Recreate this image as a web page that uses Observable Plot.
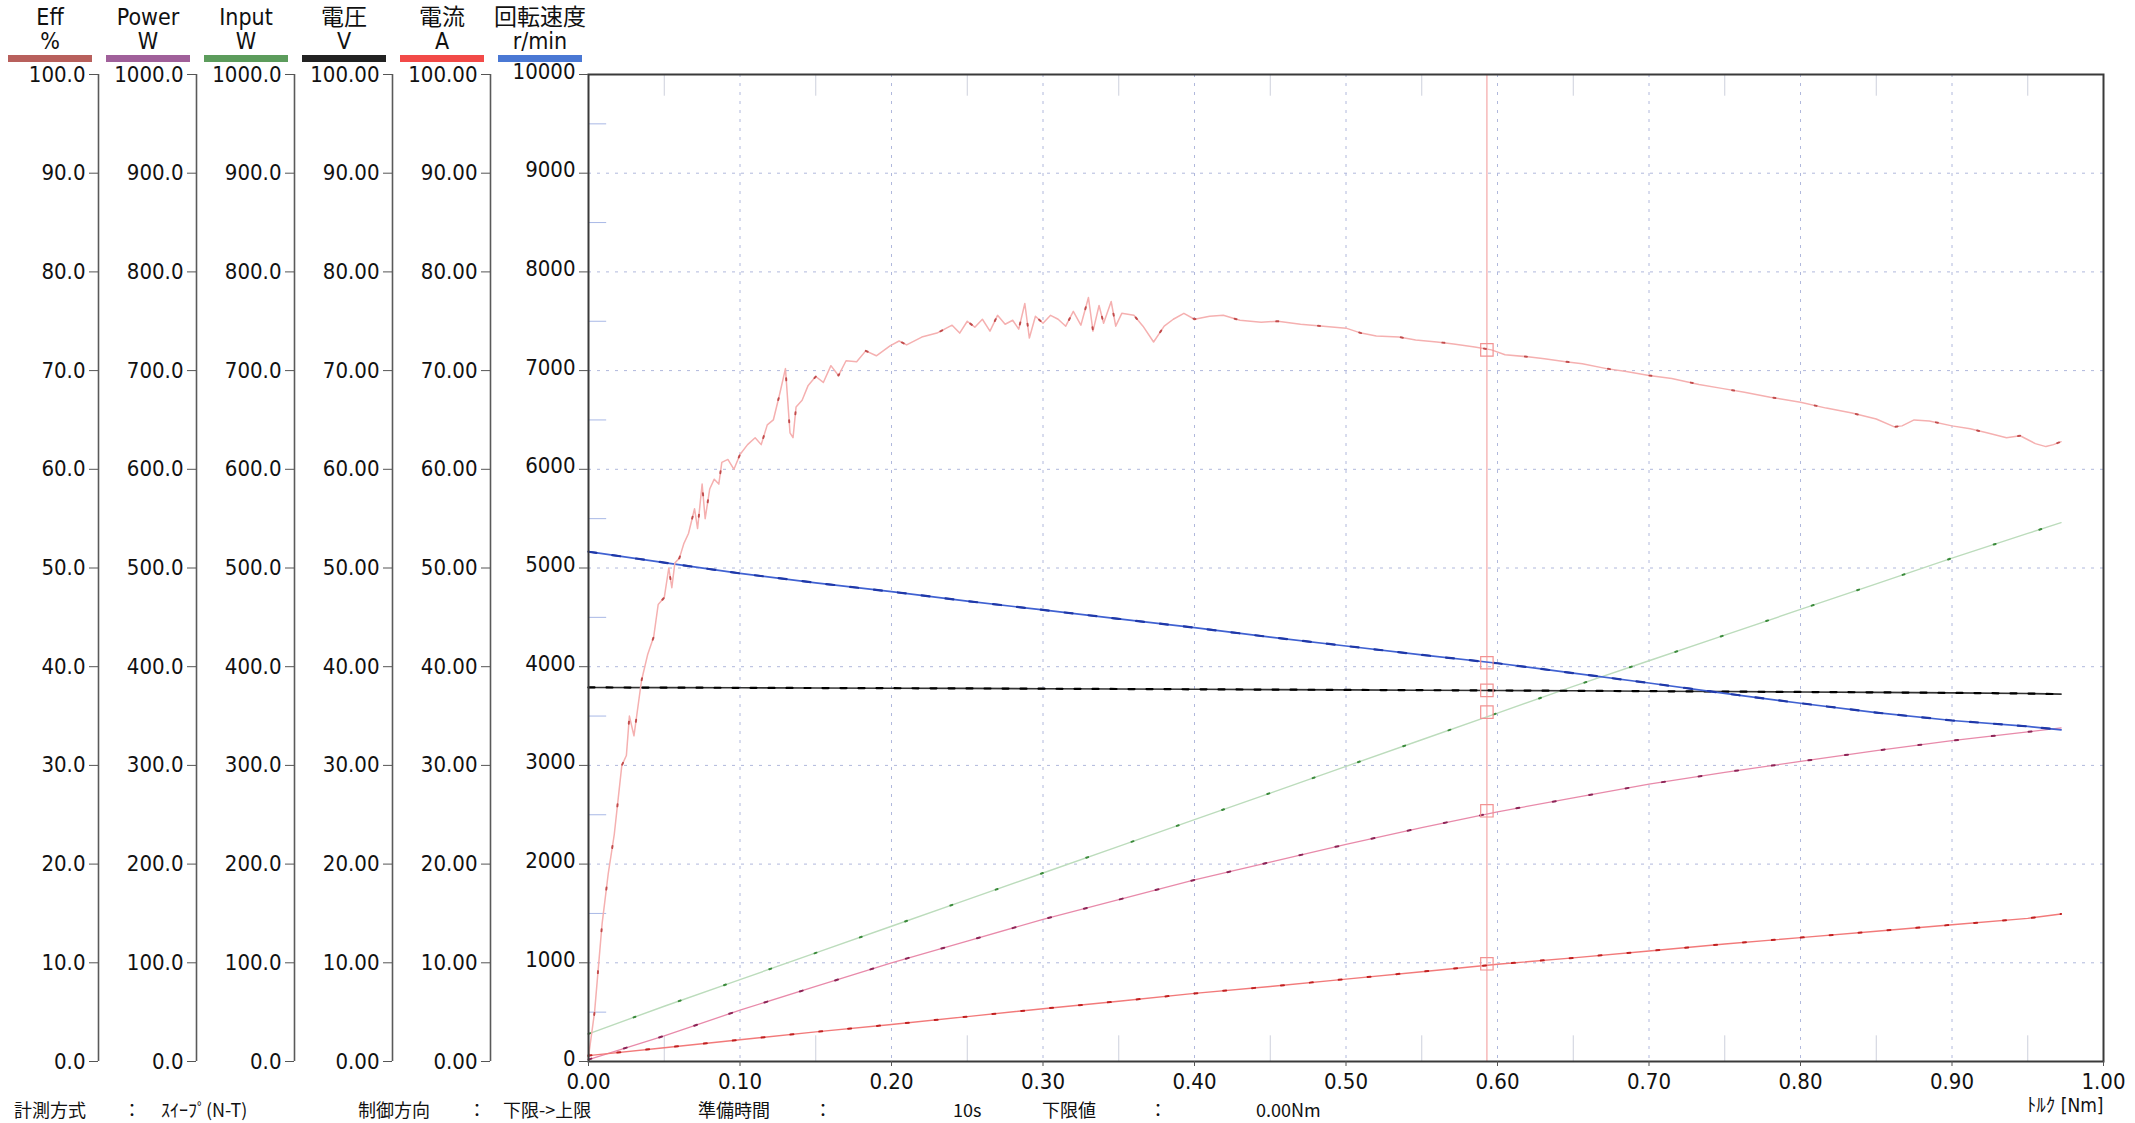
<!DOCTYPE html>
<html><head><meta charset="utf-8">
<script src="https://cdn.jsdelivr.net/npm/d3@7"></script>
<script src="https://cdn.jsdelivr.net/npm/@observablehq/plot@0.6"></script>
<style>
html,body{margin:0;padding:0;background:#fff;overflow:hidden;}
#wrap{position:relative;width:2135px;height:1123px;overflow:hidden;background:#fff;}
#chart{position:absolute;left:0;top:0;}
.hdr{position:absolute;width:120px;text-align:center;font-family:"Liberation Sans Narrow","DejaVu Sans Condensed","Noto Sans CJK JP",sans-serif;font-size:23px;line-height:24px;color:#111;white-space:nowrap;}
.bar{position:absolute;height:7px;}
.info{position:absolute;top:1099px;font-family:"Liberation Sans Narrow","Noto Sans CJK JP",sans-serif;font-size:18px;line-height:20px;color:#111;white-space:nowrap;}
</style>
</head><body>
<div id="wrap"><div id="chart"></div></div>
<script>
// ---- data ----
const torque   = [0,0.05,0.10,0.15,0.20,0.25,0.30,0.35,0.40,0.45,0.50,0.55,0.60,0.65,0.70,0.75,0.80,0.85,0.90,0.95,0.972];
const speedRpm = [5165,5055,4945,4850,4760,4665,4575,4485,4395,4300,4210,4120,4035,3935,3835,3730,3630,3535,3455,3395,3360];
const voltageV = [37.9,37.88,37.86,37.84,37.82,37.8,37.77,37.74,37.71,37.68,37.65,37.62,37.59,37.56,37.52,37.48,37.44,37.4,37.35,37.28,37.22];
const inputW   = [28,56,83,110,137,164,191,218,245,272,299,326,353,380,406,432,458,484,510,535,546];
const powerW   = [2,26,52,76,100,122,144,164,184,202,220,237,253,267,281,293,304,315,325,334,338];
const currentA = [0.6,1.4,2.2,3.0,3.75,4.55,5.35,6.1,6.9,7.6,8.35,9.1,9.85,10.5,11.2,11.9,12.55,13.2,13.85,14.5,14.95];

const effTorque = [0,0.004,0.009,0.013,0.017,0.022,0.025,0.027,0.03,0.035,0.039,0.043,0.046,0.05,0.053,0.055,0.057,0.06,0.063,0.066,0.07,0.072,0.075,0.077,0.08,0.083,0.086,0.088,0.092,0.096,0.1,0.105,0.11,0.114,0.118,0.122,0.126,0.13,0.133,0.135,0.137,0.141,0.145,0.15,0.155,0.16,0.165,0.17,0.177,0.183,0.19,0.199,0.205,0.21,0.22,0.23,0.24,0.245,0.25,0.255,0.26,0.265,0.27,0.275,0.28,0.284,0.288,0.291,0.295,0.3,0.305,0.31,0.315,0.32,0.325,0.33,0.333,0.337,0.34,0.345,0.348,0.352,0.36,0.366,0.373,0.38,0.386,0.393,0.4,0.41,0.419,0.43,0.444,0.455,0.47,0.485,0.5,0.51,0.52,0.535,0.546,0.56,0.571,0.585,0.596,0.605,0.62,0.631,0.645,0.656,0.672,0.685,0.7,0.715,0.733,0.748,0.763,0.78,0.8,0.817,0.834,0.85,0.862,0.867,0.875,0.885,0.9,0.912,0.923,0.936,0.945,0.955,0.962,0.967,0.972];
const effPct    = [0.5,5,14,19,23,30,31,35,33,38.6,41.2,43,46.3,47,50,48,50.5,51,52.5,53.5,56,54,58.5,55,58,59,58.5,60.7,61,60,61.5,62.5,63.2,62.5,64.5,65,67.5,70.2,63.7,63.2,66.3,67,68.5,69.4,68.8,70.5,69.5,71,70.9,72,71.5,72.5,73,72.6,73.4,73.8,74.6,73.8,75,74.4,75.2,74,75.6,74.7,75.1,74.2,76.8,73.3,75.5,74.8,75.6,75.2,74.5,76,74.6,77.4,74,76.6,74.8,77,74.5,75.8,75.6,74.5,72.9,74.5,75.2,75.8,75.2,75.5,75.6,75.1,74.9,75,74.7,74.5,74.3,73.8,73.5,73.4,73.1,72.9,72.7,72.4,72.1,71.6,71.4,71.2,70.9,70.7,70.2,69.9,69.5,69.2,68.6,68.2,67.8,67.3,66.8,66.2,65.7,65.1,64.3,64.4,65,64.9,64.4,64.1,63.7,63.2,63.4,62.6,62.3,62.5,62.8];

// cursor readout at the red vertical line
const cursorTorque = 0.593;
const cursorValues = {eff: 72.1, power: 254, input: 354, voltage: 37.6, current: 9.9, speed: 4040};

// axis headers and tick values
const axisNames = ["Eff","Power","Input","電圧","電流","回転速度"];
const axisUnits = ["%","W","W","V","A","r/min"];
const axisColors = ["#b8605c","#a0609a","#5c9c5c","#222222","#f24a48","#4a78d4"];
const yTicks = [0,1000,2000,3000,4000,5000,6000,7000,8000,9000,10000];
const yMinor = [500,1500,2500,3500,4500,5500,6500,7500,8500,9500];
const xTicks = [0,0.1,0.2,0.3,0.4,0.5,0.6,0.7,0.8,0.9,1.0];
const xMinor = [0.05,0.15,0.25,0.35,0.45,0.55,0.65,0.75,0.85,0.95];
const xLabel = "ﾄﾙｸ [Nm]";
const infoTexts = ["計測方式","：","ｽｲｰﾌﾟ(N-T)","制御方向","：","下限->上限","準備時間","：","10s","下限値","：","0.00Nm"];

// ---- scaling of each series onto the common (rpm) axis ----
const k = {eff:100, power:10, input:10, voltage:100, current:100, speed:1};
const tbl = (vals, f) => torque.map((t,i)=>({t, y: vals[i]*f}));
const speedD = tbl(speedRpm, k.speed), voltD = tbl(voltageV, k.voltage), inD = tbl(inputW, k.input),
      powD = tbl(powerW, k.power), curD = tbl(currentA, k.current);
const effD = effTorque.map((t,i)=>({t, y: effPct[i]*k.eff}));
const cursorD = Object.keys(cursorValues).map(s=>({t: cursorTorque, y: cursorValues[s]*k[s]}));

const fmts = [d=>(d/100).toFixed(1), d=>(d/10).toFixed(1), d=>(d/10).toFixed(1),
              d=>(d/100).toFixed(2), d=>(d/100).toFixed(2), d=>String(d)];

const W=2135, H=1123, ML=588, MR=32, MT=74, MB=62, GAP=98;
const FONT = '"Liberation Sans Narrow","DejaVu Sans Condensed","Noto Sans CJK JP",sans-serif';

const line = (data, stroke, w, extra={}) => Plot.line(data, {x:"t", y:"y", stroke, strokeWidth:w, ...extra});

const marks = [
  Plot.gridX(xTicks.slice(1,-1), {x:d=>d, stroke:"#b0b8dc", strokeOpacity:1, strokeDasharray:"3,6"}),
  Plot.gridY(yTicks.slice(1,-1), {y:d=>d, stroke:"#b0b8dc", strokeOpacity:1, strokeDasharray:"3,6"}),
  Plot.ruleY(yMinor, {x1:0, x2:0.012, stroke:"#a8b8e6"}),
  Plot.ruleX(xMinor, {y1:0, y2:260, stroke:"#cdd0dc"}),
  Plot.ruleX(xMinor, {y1:9780, y2:10000, stroke:"#cdd0dc"}),
  Plot.ruleX([cursorTorque], {stroke:"#f6b4b4", strokeWidth:1.4}),
  line(inD, "#bcdcbc", 1.4), line(inD, "#3a8a3a", 2, {strokeDasharray:"2,46"}),
  line(powD, "#e88aaa", 1.3), line(powD, "#8c2456", 2, {strokeDasharray:"3,34"}),
  line(curD, "#f27a7a", 1.4), line(curD, "#c02020", 2, {strokeDasharray:"3,26"}),
  line(voltD, "#333", 1.6), line(voltD, "#000", 2.2, {strokeDasharray:"6,12"}),
  line(speedD, "#4062d2", 1.7), line(speedD, "#1f38a8", 2.2, {strokeDasharray:"8,16"}),
  line(effD, "#f5b0b0", 1.5), line(effD, "#b02828", 2, {strokeDasharray:"2,40", strokeOpacity:0.75}),
  Plot.dot(cursorD, {x:"t", y:"y", symbol:"square", r:7, stroke:"#f29292", strokeWidth:1.2, fill:"none"}),
  Plot.frame({stroke:"#3a3a3a", strokeWidth:2}),
  Plot.axisX(xTicks, {anchor:"bottom", tickFormat:d=>d.toFixed(2), tickSize:5, tickPadding:7, label:null, stroke:"#555", fontSize:22}),
  Plot.text([xLabel], {frameAnchor:"bottom-right", dy:50, textAnchor:"end", fontSize:19})
];
for (let i=0;i<6;i++){
  const dx = -(5-i)*GAP;
  if (i<5) {
    marks.push(Plot.ruleX([0], {y1:0, y2:10000, dx, stroke:"#5a5a5a", strokeWidth:1.6}));
    marks.push(Plot.axisY(yTicks, {anchor:"left", dx, tickFormat:fmts[i], tickSize:9, tickPadding:4, label:null, stroke:"#555", fontSize:22}));
  } else {
    // speed axis: ticks on the grid, labels nudged up slightly to clear the x labels
    marks.push(Plot.axisY(yTicks, {anchor:"left", dx, tickSize:9, label:null, stroke:"#555", fill:"none"}));
    marks.push(Plot.axisY(yTicks, {anchor:"left", dx, dy:-3, tickFormat:fmts[i], tickSize:9, tickPadding:4, label:null, stroke:"none", fontSize:22}));
  }
}

const chart = Plot.plot({
  width:W, height:H, marginLeft:ML, marginRight:MR, marginTop:MT, marginBottom:MB,
  x:{domain:[0,1]}, y:{domain:[0,10000]},
  style:{fontFamily:FONT, fontSize:"22px", background:"transparent", color:"#111"},
  marks
});
document.getElementById("chart").append(chart);

// ---- headers (legend) ----
const wrap = document.getElementById("wrap");
axisNames.forEach((n,i)=>{
  const cx = ML - (5-i)*GAP - 48;
  const a = document.createElement("div"); a.className="hdr"; a.style.left=(cx-60)+"px"; a.style.top="5px"; a.textContent=n; wrap.append(a);
  const b = document.createElement("div"); b.className="hdr"; b.style.left=(cx-60)+"px"; b.style.top="29px"; b.textContent=axisUnits[i]; wrap.append(b);
  const c = document.createElement("div"); c.className="bar"; c.style.left=(cx-42)+"px"; c.style.width="84px"; c.style.top="55px"; c.style.background=axisColors[i]; wrap.append(c);
});
// ---- footer info line ----
const infoX = [14,123,161,358,468,503,698,814,953,1042,1149,1256];
infoTexts.forEach((s,i)=>{
  const d = document.createElement("div"); d.className="info"; d.style.left=infoX[i]+"px"; d.textContent=s; wrap.append(d);
});
</script>
</body></html>
